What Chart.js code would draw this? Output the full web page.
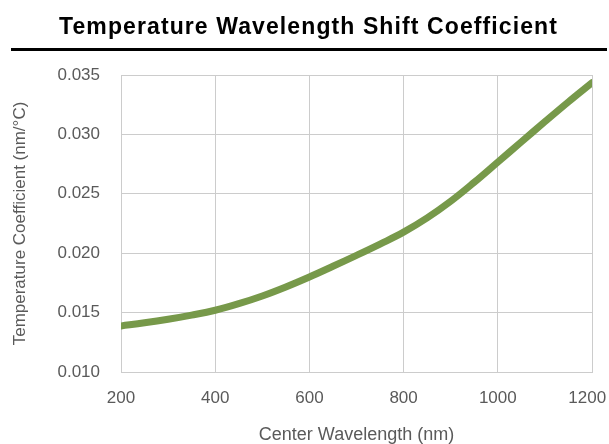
<!DOCTYPE html>
<html>
<head>
<meta charset="utf-8">
<script src="https://cdn.jsdelivr.net/npm/chart.js@4.4.1/dist/chart.umd.min.js"></script>
<style>
  html, body { margin: 0; padding: 0; background: #ffffff; }
  #wrap { position: relative; width: 609px; height: 444px; overflow: hidden; }
  #title {
    position: absolute; left: 4px; top: 15px; width: 609px; text-align: center;
    font-family: "Liberation Sans", Arial, sans-serif; font-weight: bold;
    font-size: 23px; line-height: 23px; letter-spacing: 1.1px; color: #000;
  }
  #rule { position: absolute; left: 11px; top: 48px; width: 596px; height: 3px; background: #000; }
  canvas { position: absolute; left: 0; top: 0; }
</style>
</head>
<body>
<div id="wrap">
  <canvas id="c" width="609" height="444"></canvas>
  <div id="title">Temperature Wavelength Shift Coefficient</div>
  <div id="rule"></div>
</div>
<script>
const wavelengths = [200, 250, 300, 350, 400, 450, 500, 550, 600, 650, 700, 750, 800, 850, 900, 950, 1000, 1050, 1100, 1150, 1200];
const coefficients = [0.01388, 0.01414, 0.01444, 0.01479, 0.01520, 0.01575, 0.01640, 0.01716, 0.01800, 0.01890, 0.01982, 0.02077, 0.02177, 0.02297, 0.02437, 0.02597, 0.02767, 0.02937, 0.03107, 0.03274, 0.03435];
const xTicks = [200, 400, 600, 800, 1000, 1200];
const yTicks = [0.010, 0.015, 0.020, 0.025, 0.030, 0.035];
const xTitle = 'Center Wavelength (nm)';
const yTitle = 'Temperature Coefficient (nm/°C)';

const points = wavelengths.map((w, i) => ({ x: w, y: coefficients[i] }));
const gridColor = '#cccccc';
const textColor = '#5a5a5a';
const fam = '"Liberation Sans", Arial, sans-serif';

new Chart(document.getElementById('c'), {
  type: 'line',
  data: {
    datasets: [{
      data: points,
      borderColor: '#77994a',
      borderWidth: 7,
      borderCapStyle: 'round',
      borderJoinStyle: 'round',
      pointRadius: 0,
      fill: false,
      tension: 0.4
    }]
  },
  options: {
    responsive: false,
    animation: false,
    devicePixelRatio: 1,
    layout: { padding: { left: 0, right: 17, top: 75, bottom: 0 } },
    plugins: { legend: { display: false }, tooltip: { enabled: false }, title: { display: false } },
    scales: {
      x: {
        type: 'linear',
        min: 200, max: 1200,
        afterBuildTicks: (s) => { s.ticks = xTicks.map(v => ({ value: v })); },
        afterFit: (s) => { s.height = 72; s.paddingLeft = 0; s.paddingRight = 0; },
        grid: { color: gridColor, lineWidth: 1, drawTicks: false },
        border: { color: gridColor },
        ticks: { color: textColor, font: { family: fam, size: 17 }, padding: 16, maxRotation: 0,
                 callback: (v) => (v === 1200 ? String(v) + '\u00a0\u00a0' : String(v)) },
        title: { display: true, text: xTitle, color: textColor, font: { family: fam, size: 18 }, padding: { top: 0, bottom: -2 } }
      },
      y: {
        type: 'linear',
        min: 0.010, max: 0.035,
        afterBuildTicks: (s) => { s.ticks = yTicks.map(v => ({ value: v })); },
        afterFit: (s) => { s.width = 121; s.paddingTop = 0; s.paddingBottom = 0; },
        grid: { color: gridColor, lineWidth: 1, drawTicks: false },
        border: { color: gridColor },
        ticks: { color: textColor, font: { family: fam, size: 17 }, padding: 21,
                 callback: (v) => Number(v).toFixed(3) },
        title: { display: true, text: yTitle, color: textColor, font: { family: fam, size: 17 }, padding: { top: 10, bottom: 0 } }
      }
    }
  }
});
</script>
</body>
</html>
